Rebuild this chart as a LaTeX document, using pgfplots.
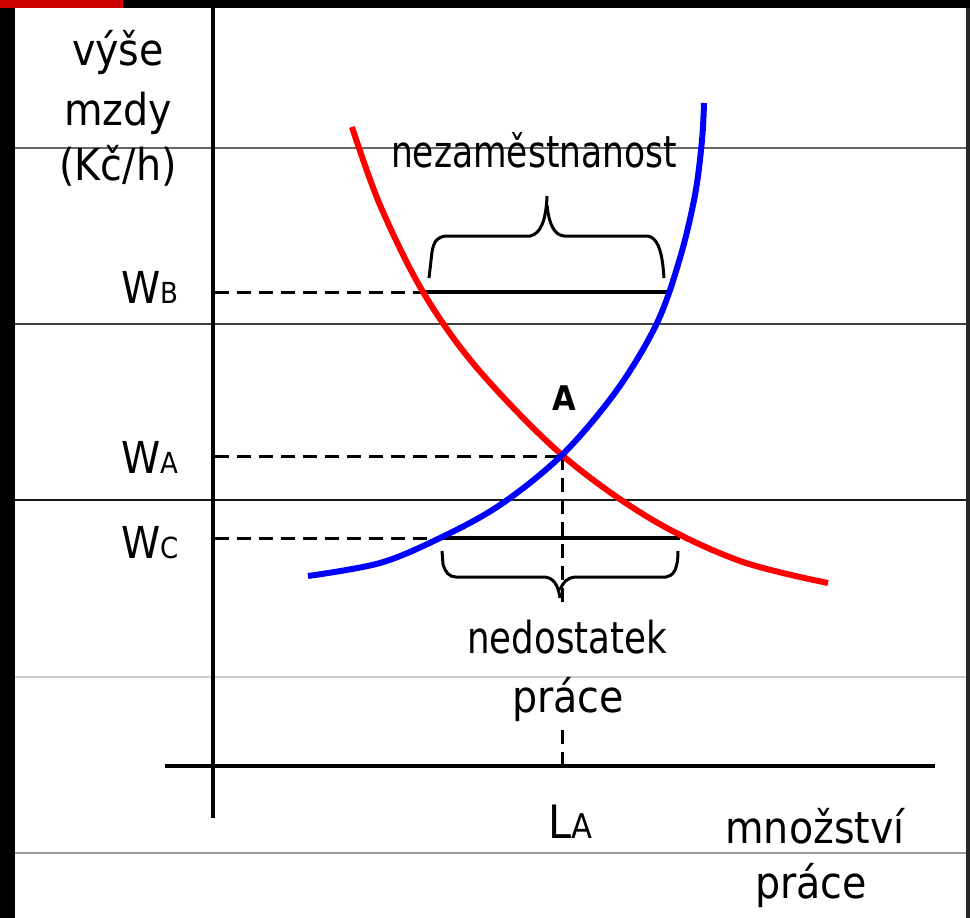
\documentclass[border=0pt]{standalone}
\usepackage{fontspec}
\setmainfont{DejaVu Sans}[FakeStretch=0.9]
\usepackage{pgfplots}
\pgfplotsset{compat=1.18}
\newcommand{\F}[1]{\fontsize{#1}{#1}\selectfont}
\begin{document}
\begin{tikzpicture}
\begin{axis}[scale only axis, width=970pt, height=918pt,
  xmin=0, xmax=970, ymin=0, ymax=918, y dir=reverse,
  axis lines=none, clip=false]
% background and frame
\fill[white] (axis cs:0,0) rectangle (axis cs:970,918);
\fill[black] (axis cs:0,0) rectangle (axis cs:15,918);
\fill[black] (axis cs:0,0) rectangle (axis cs:970,8);
\fill[red!80!black] (axis cs:0,0) rectangle (axis cs:123,8);
\fill[black!85] (axis cs:966,8) rectangle (axis cs:970,918);
% horizontal gray lines
\draw[black!60, line width=1.5pt] (axis cs:15,148) -- (axis cs:966,148);
\draw[black!75, line width=1.5pt] (axis cs:15,324) -- (axis cs:966,324);
\draw[black!90, line width=1.5pt] (axis cs:15,500) -- (axis cs:966,500);
\draw[black!20, line width=1.5pt] (axis cs:15,677) -- (axis cs:966,677);
\draw[black!40, line width=1.5pt] (axis cs:15,853) -- (axis cs:966,853);
% axes
\draw[black, line width=4pt] (axis cs:213,8) -- (axis cs:213,818);
\draw[black, line width=3.5pt] (axis cs:165,766) -- (axis cs:935,766);
% dashed lines
\draw[black, line width=3pt, dash pattern=on 14pt off 8pt] (axis cs:215,292) -- (axis cs:425,292);
\draw[black, line width=3pt, dash pattern=on 14pt off 8pt] (axis cs:215,456) -- (axis cs:562,456);
\draw[black, line width=3pt, dash pattern=on 14pt off 8pt] (axis cs:215,538) -- (axis cs:440,538);
\draw[black, line width=3pt, dash pattern=on 14pt off 8pt] (axis cs:562,456) -- (axis cs:562,607);
\draw[black, line width=3pt, dash pattern=on 14pt off 8pt] (axis cs:562,730) -- (axis cs:562,766);
% solid lines
\draw[black, line width=3.5pt] (axis cs:425,292) -- (axis cs:668,292);
\draw[black, line width=3.5pt] (axis cs:440,538) -- (axis cs:680,538);
% braces
\draw[black, line width=3pt] (axis cs:429,278) -- (axis cs:432,252) .. controls (axis cs:434,240) and (axis cs:438,237) .. (axis cs:446,236)
  -- (axis cs:530,236) .. controls (axis cs:540,234) and (axis cs:546,222) .. (axis cs:547,196);
\draw[black, line width=3pt] (axis cs:547,205) .. controls (axis cs:549,224) and (axis cs:554,235) .. (axis cs:564,236)
  -- (axis cs:648,236) .. controls (axis cs:656,238) and (axis cs:662,246) .. (axis cs:664,278);
\draw[black, line width=3pt] (axis cs:442,551) -- (axis cs:443,564) .. controls (axis cs:445,572) and (axis cs:449,577) .. (axis cs:456,577)
  -- (axis cs:545,577) .. controls (axis cs:553,578) and (axis cs:558,584) .. (axis cs:560,598);
\draw[black, line width=3pt] (axis cs:560,590) .. controls (axis cs:563,582) and (axis cs:567,578) .. (axis cs:575,577)
  -- (axis cs:666,577) .. controls (axis cs:673,576) and (axis cs:678,570) .. (axis cs:678,551);
% demand curve (red)
\addplot[red, line width=6pt, smooth, tension=0.55] coordinates {
(352,127) (380,205) (423,292) (477,368) (562,455) (651,519) (740,561) (828,583)};
% supply curve (blue)
\addplot[blue, line width=6pt, smooth, tension=0.55] coordinates {
(308,576) (380,563) (440,538) (500,505) (562,455) (617,390) (657,323) (680,258)
(695,195) (702,140) (704,103)};
% labels
\node[anchor=base] at (axis cs:118,65) {\F{44}výše};
\node[anchor=base] at (axis cs:118,125) {\F{44}mzdy};
\node[anchor=base] at (axis cs:118,180) {\F{44}(Kč/h)};
\node[anchor=base] at (axis cs:534,167) {\scalebox{0.87}[1]{\F{44}nezaměstnanost}};
\node[anchor=base east, inner sep=0pt] at (axis cs:179,303) {\F{44}W\F{29}B};
\node[anchor=base east, inner sep=0pt] at (axis cs:179,473) {\F{44}W\F{29}A};
\node[anchor=base east, inner sep=0pt] at (axis cs:179,558) {\F{44}W\F{29}C};
\node[anchor=base] at (axis cs:564,410) {\F{34}\textbf{A}};
\node[anchor=base] at (axis cs:567,653) {\scalebox{0.9}[1]{\F{44}nedostatek}};
\node[anchor=base] at (axis cs:568,712) {\F{44}práce};
\node[anchor=base, inner sep=0pt] at (axis cs:570,838) {\F{46}L\F{34}A};
\node[anchor=base] at (axis cs:815,843) {\F{44}množství};
\node[anchor=base] at (axis cs:811,898) {\F{44}práce};
\end{axis}
\end{tikzpicture}
\end{document}
